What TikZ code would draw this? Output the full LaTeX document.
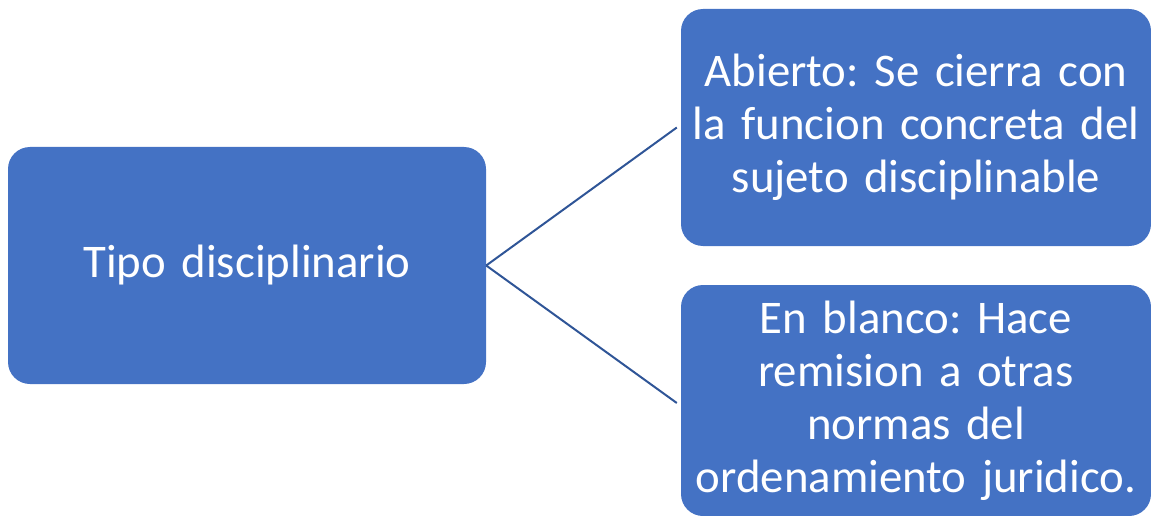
\documentclass[tikz,border=0pt]{standalone}
\usepackage{fontspec}
\setmainfont{Carlito}
\usepackage{xcolor}
\usetikzlibrary{positioning}
\definecolor{cajaazul}{HTML}{4472C4}
\definecolor{lineaazul}{HTML}{2F5597}

\begin{document}
\begin{tikzpicture}[
    x=1pt, y=-1pt,
    caja/.style={rectangle, rounded corners=22pt, fill=cajaazul, text=white, inner sep=0pt, align=center,
        font=\fontsize{46.8}{53}\selectfont\frenchspacing},
    linea/.style={draw=lineaazul, line width=2pt}
]
    \useasboundingbox (0,0) rectangle (1151,516);
    \node (tipo) [caja, minimum width=478pt, minimum height=237pt, text width=468pt] at (247,265.5) {Tipo disciplinario};
    \node (abierto) [caja, minimum width=470pt, minimum height=237pt, text width=466pt] at (916,127.5) {Abierto: Se cierra con\\la funcion concreta del\\sujeto disciplinable};
    \node (blanco) [caja, minimum width=470pt, minimum height=231pt, text width=466pt] at (916,400.5) {En blanco: Hace\\remision a otras\\normas del\\ordenamiento juridico.};

    \draw [linea] (tipo.east) -- ([xshift=-4pt]abierto.west);
    \draw [linea] (tipo.east) -- ([xshift=-4pt,yshift=-2.5pt]blanco.west);
\end{tikzpicture}
\end{document}
